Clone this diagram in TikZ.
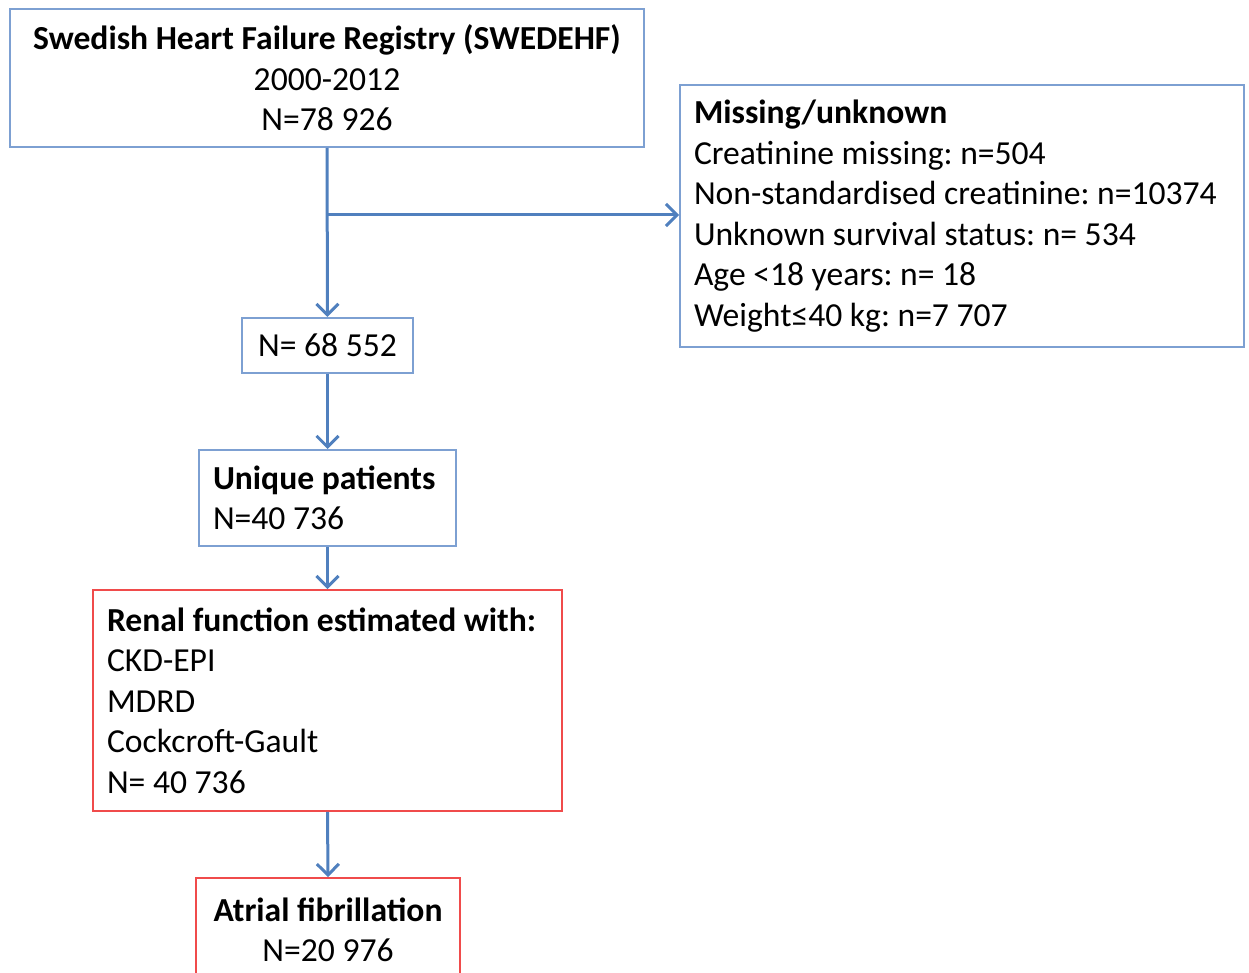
\documentclass[tikz,border=0pt]{standalone}
\usepackage{fontspec}
\setmainfont{Carlito}
\usetikzlibrary{arrows.meta}
\definecolor{linkblue}{RGB}{80,128,190}
\definecolor{edgeblue}{RGB}{125,160,210}
\definecolor{edgered}{RGB}{240,75,75}
\frenchspacing

\begin{document}
\begin{tikzpicture}[x=0.5pt,y=-0.5pt,
  every node/.style={font=\fontsize{16.8}{20.25}\selectfont},
  bluebox/.style={draw=edgeblue,line width=1pt,inner sep=0pt},
  redbox/.style={draw=edgered,line width=0.9pt,inner sep=0pt},
  link/.style={draw=linkblue,line width=1.5pt,-{Straight Barb[length=5.5pt,width=11pt,line width=1.5pt]}}]
\path[use as bounding box,clip] (0,0) rectangle (1249,973);
\node[bluebox,minimum width=317pt,minimum height=69pt,align=center] (registry) at (327,78)
  {\textbf{Swedish Heart Failure Registry (SWEDEHF)}\\2000-2012\\N=78~926};
\node[bluebox,minimum width=282pt,minimum height=131pt,text width=268pt,align=flush left] (missing) at (962,216)
  {\textbf{Missing/unknown}\\Creatinine missing: n=504\\Non-standardised creatinine: n=10374\\Unknown survival status: n=~534\\Age <18 years: n=~18\\Weight≤40 kg: n=7~707};
\node[bluebox,minimum width=85.5pt,minimum height=27.5pt] (remaining) at (327.5,345.5) {N=~68~552};
\node[bluebox,minimum width=128.5pt,minimum height=48pt,text width=114.5pt,align=flush left] (unique) at (327.5,498)
  {\textbf{Unique patients}\\N=40~736};
\node[redbox,minimum width=234.5pt,minimum height=110.5pt,text width=220.5pt,align=flush left] (renal) at (327.5,700.5)
  {\textbf{Renal function estimated with:}\\CKD-EPI\\MDRD\\Cockcroft-Gault\\N=~40~736};
\node[redbox,minimum width=132pt,minimum height=52pt,align=center] (atrial) at (328,930)
  {\textbf{Atrial fibrillation}\\N=20~976};
\coordinate (split) at (327,215);
\draw[link] (registry.south) -- (remaining.north);
\draw[link] (split) -- (split -| missing.west);
\draw[link] (remaining.south) -- (unique.north);
\draw[link] (unique.south) -- (renal.north);
\draw[link] (renal.south) -- (atrial.north);
\end{tikzpicture}
\end{document}
